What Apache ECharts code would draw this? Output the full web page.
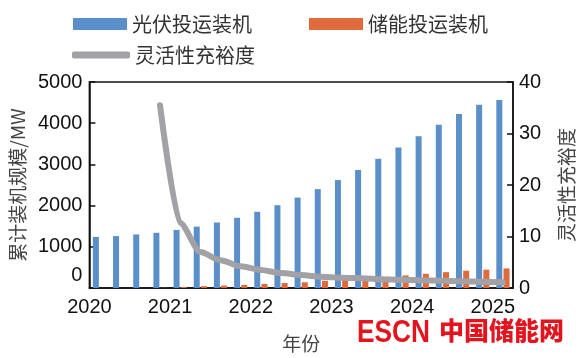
<!DOCTYPE html>
<html>
<head>
<meta charset="utf-8">
<script src="https://cdn.jsdelivr.net/npm/echarts@6/dist/echarts.min.js"></script>
<style>html,body{margin:0;padding:0;background:#fff}#c{width:584px;height:358px}</style>
</head>
<body>
<div id="c"></div>
<script>
var categories = ['2020Q1','2020Q2','2020Q3','2020Q4','2021Q1','2021Q2','2021Q3','2021Q4','2022Q1','2022Q2','2022Q3','2022Q4','2023Q1','2023Q2','2023Q3','2023Q4','2024Q1','2024Q2','2024Q3','2024Q4','2025Q1'];
var yearLabels = ['2020','2021','2022','2023','2024','2025'];
var pvValues = [1240,1260,1300,1340,1410,1490,1590,1705,1850,2010,2195,2400,2620,2865,3135,3410,3685,3965,4225,4450,4565];
var storageValues = [0,0,0,5,25,45,60,75,100,120,140,175,190,220,260,305,345,385,420,445,475];
var flexValues = ['-','-','-',35.5,12.6,7.0,5.4,4.2,3.5,2.9,2.5,2.2,2.0,1.9,1.7,1.6,1.5,1.4,1.3,1.2,1.1];
var leftTicks = {min:0, max:5000, interval:1000};
var rightTicks = {min:0, max:40, interval:10};

var latin = 'Liberation Sans, Arial, Noto Sans CJK SC, sans-serif';
var cjk = 'Noto Sans CJK SC, Liberation Sans, sans-serif';
var chart = echarts.init(document.getElementById('c'), null, {renderer:'canvas'});
var legendText = {fontFamily: cjk, fontSize: 20, color: '#333'};
chart.setOption({
  animation: false,
  grid: {left: 87, right: 66, top: 82, bottom: 58, show: true, borderColor: '#111', borderWidth: 1.5},
  legend: [
    {data: ['光伏投运装机'], left: 68, top: 9, itemWidth: 54, itemHeight: 12, icon: 'rect', textStyle: legendText, itemGap: 8},
    {data: ['储能投运装机'], left: 304, top: 9, itemWidth: 54, itemHeight: 12, icon: 'rect', textStyle: legendText},
    {data: [{name: '灵活性充裕度', icon: 'roundRect'}], left: 67, top: 40, itemWidth: 58, itemHeight: 7, textStyle: legendText}
  ],
  xAxis: [
    {type: 'category', data: categories, boundaryGap: true, position: 'bottom',
     axisLine: {show: true, lineStyle: {color: '#111', width: 1.5}}, axisTick: {show: false}, axisLabel: {show: false}},
    {type: 'value', min: 0, max: categories.length, interval: 4, position: 'bottom',
     axisLine: {show: false}, axisTick: {show: false}, splitLine: {show: false},
     axisLabel: {show: true, margin: 9, fontFamily: latin, fontSize: 20, color: '#111', showMaxLabel: false,
       formatter: function (v) { return (v % 4 === 0 && yearLabels[v / 4]) ? yearLabels[v / 4] : ''; }},
     name: '年份', nameLocation: 'middle', nameGap: 46,
     nameTextStyle: {fontFamily: cjk, fontSize: 19, color: '#444'}}
  ],
  yAxis: [
    {type: 'value', min: leftTicks.min, max: leftTicks.max, interval: leftTicks.interval, position: 'left',
     axisLine: {show: true, lineStyle: {color: '#111', width: 1.5}},
     axisTick: {show: true, inside: true, length: 6, lineStyle: {color: '#111', width: 1.5}},
     splitLine: {show: false},
     axisLabel: {margin: 7, fontFamily: latin, fontSize: 20, color: '#111',
       formatter: function (v) { return v === 0 ? '{z|0}' : String(v); },
       rich: {z: {fontFamily: latin, fontSize: 20, color: '#111', padding: [0, 0, 26, 0]}}},
     name: '累计装机规模/MW', nameLocation: 'middle', nameGap: 60, nameRotate: 90,
     nameTextStyle: {fontFamily: cjk, fontSize: 19, color: '#444'}},
    {type: 'value', min: rightTicks.min, max: rightTicks.max, interval: rightTicks.interval, position: 'right',
     axisLine: {show: true, lineStyle: {color: '#111', width: 1.5}},
     axisTick: {show: true, inside: true, length: 6, lineStyle: {color: '#111', width: 1.5}},
     splitLine: {show: false},
     axisLabel: {margin: 6, fontFamily: latin, fontSize: 20, color: '#111'},
     name: '灵活性充裕度', nameLocation: 'middle', nameGap: 44, nameRotate: 90,
     nameTextStyle: {fontFamily: cjk, fontSize: 19, color: '#444'}}
  ],
  series: [
    {name: '光伏投运装机', type: 'bar', xAxisIndex: 0, yAxisIndex: 0, data: pvValues, barWidth: 6, barGap: '20%',
     itemStyle: {color: '#5b8fc9'}},
    {name: '储能投运装机', type: 'bar', xAxisIndex: 0, yAxisIndex: 0, data: storageValues, barWidth: 6, barGap: '20%',
     itemStyle: {color: '#df6a3c'}},
    {name: '灵活性充裕度', type: 'line', xAxisIndex: 0, yAxisIndex: 1, data: flexValues, showSymbol: false, symbol: 'none',
     smooth: 0.25, smoothMonotone: 'x', lineStyle: {color: '#a2a2a6', width: 6, cap: 'round', join: 'round'},
     itemStyle: {color: '#a2a2a6'}}
  ],
  graphic: [
    {type: 'text', left: 357, top: 317, scaleX: 0.82, style: {text: 'ESCN', fill: '#e3141e', font: 'bold 32px Liberation Sans, Arial, sans-serif'}},
    {type: 'text', left: 439, top: 318, style: {text: '中国储能网', fill: '#e3141e', font: '900 25px Noto Sans CJK SC, sans-serif'}}
  ]
});
</script>
</body>
</html>
